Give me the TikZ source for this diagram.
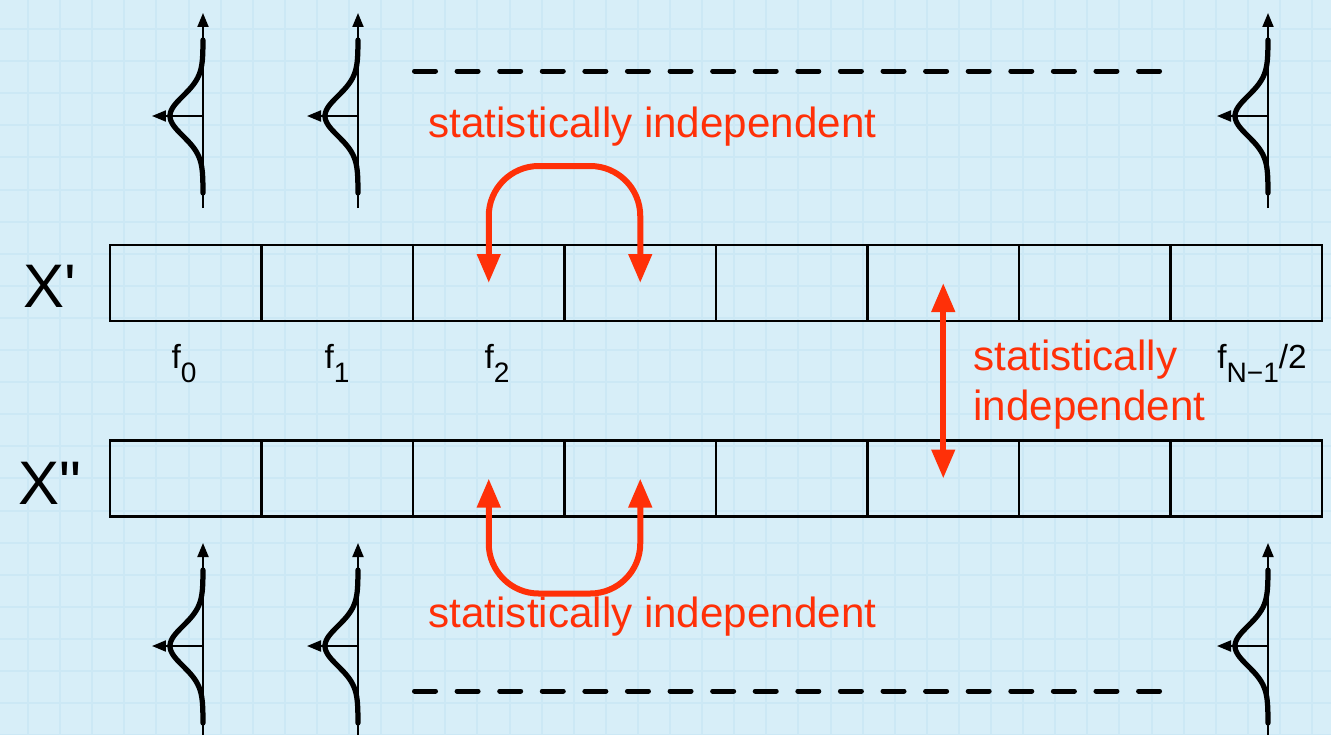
\documentclass[tikz,border=0pt]{standalone}
\usepackage{fontspec}
\newfontfamily\labelfont{Liberation Sans}
\usepackage{tikz}
\usetikzlibrary{arrows.meta}

\definecolor{paper}{RGB}{215,238,248}
\definecolor{gridblue}{RGB}{204,232,245}
\definecolor{indepred}{RGB}{255,48,8}

\newcommand{\fsub}[1]{f\raisebox{-8.5pt}{\fontsize{16pt}{16pt}\selectfont #1}}

\begin{document}
\begin{tikzpicture}[
    x=0.02cm, y=-0.02cm,
    font=\labelfont,
    cell/.style={draw, line width=1.4pt, rectangle, inner sep=0pt, outer sep=0pt,
                 minimum width=3.03cm, minimum height=1.52cm},
    gridline/.style={gridblue, line width=0.04cm},
    axisline/.style={line width=0.04cm, -{Triangle[length=0.28cm, width=0.22cm]}},
    bell/.style={line width=0.105cm, line cap=round},
    dashline/.style={line width=0.1cm, line cap=round,
                     dash pattern=on 0.42cm off 0.432cm},
    redline/.style={indepred, line width=0.12cm,
                    {Triangle[length=0.58cm, width=0.45cm]}-{Triangle[length=0.58cm, width=0.45cm]}},
    redtext/.style={indepred, font=\labelfont\fontsize{24pt}{28.3pt}\selectfont, inner sep=0pt},
    rowlabel/.style={font=\labelfont\fontsize{35pt}{35pt}\selectfont, inner sep=0pt, anchor=base},
    flabel/.style={font=\labelfont\fontsize{19pt}{19pt}\selectfont, inner sep=0pt, anchor=base}
]

% --- background with grid ---
\fill[paper] (0,0) rectangle (1331,734);
\useasboundingbox (0,0) rectangle (1331,734);
\foreach \i in {0,...,40}
  \draw[gridline] ({28+32.1*\i},0) -- ({28+32.1*\i},734);
\foreach \j in {0,...,22}
  \draw[gridline] (0,{29+32.1*\j}) -- (1331,{29+32.1*\j});

% --- the two rows of frequency cells ---
\foreach \i in {1,...,8} {
  \node[cell] (xa\i) at ({110+151.5*(\i-0.5)},283) {};
  \node[cell] (xb\i) at ({110+151.5*(\i-0.5)},478.5) {};
}
\node[rowlabel] (lxa) at (50,307) {X'};
\node[rowlabel] (lxb) at (50,504) {X"};

% frequency labels
\node[flabel] (f0) at (184,368) {\fsub{0}};
\node[flabel] (f1) at (337,368) {\fsub{1}};
\node[flabel] (f2) at (497,368) {\fsub{2}};
\node[flabel] (fn) at (1262,368) {\fsub{N−1}/2};

% --- Gaussian distributions above and below ---
\foreach \gx in {203,358,1268}
  \foreach \gy in {116,646} {
    \draw[axisline] (\gx,\gy+92) -- (\gx,\gy-103);
    \draw[axisline] (\gx,\gy) -- (\gx-51,\gy);
    \draw[bell] plot[domain=-76:77, samples=77, smooth]
      ({\gx-33*exp(-((\x)*(\x))/800)}, {\gy+\x});
  }

% dots between the distributions
\draw[dashline] (414.5,71) -- (1162,71);
\draw[dashline] (414.5,691) -- (1162,691);

% --- statistical independence ---
\draw[redline, rounded corners=1cm] (xa3.center) -- ++(0,-117) -| (xa4.center);
\draw[redline, rounded corners=1cm] (xb3.center) -- ++(0,115) -| (xb4.center);
\draw[redline] (xa6.center) -- (xb6.center);

\node[redtext, anchor=base] (indtop) at (652.5,137) {statistically independent};
\node[redtext, anchor=base] (indbot) at (652.5,627) {statistically independent};
\node[redtext, anchor=base west, align=left] (indmid) at (973,420)
  {statistically\\independent};

\end{tikzpicture}
\end{document}
